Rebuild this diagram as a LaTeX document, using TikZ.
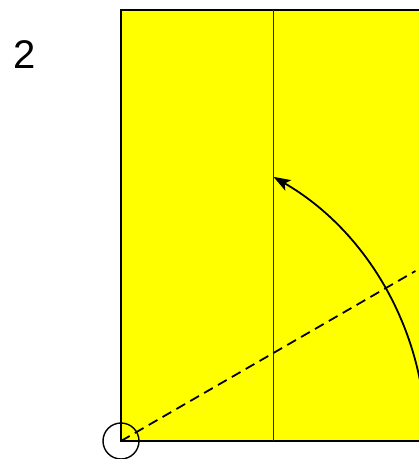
\documentclass[tikz,border=0pt]{standalone}
\usepackage{fontspec}
\setmainfont{Liberation Sans}
\usetikzlibrary{arrows.meta}
\definecolor{paperyellow}{RGB}{255,255,0}
\begin{document}
\begin{tikzpicture}[x=1pt,y=-1pt,
  paper/.style={fill=paperyellow,draw=black,line width=2.3pt},
  crease/.style={draw=black!85,line width=1pt},
  foldline/.style={draw=black,line width=1.8pt,dash pattern=on 10pt off 6pt},
  movearrow/.style={draw=black,line width=1.8pt,-{Stealth[length=17pt,width=12pt,inset=4pt]}},
  marker/.style={draw=black,line width=1.4pt}]
\useasboundingbox (0,0) rectangle (419,459);
\clip (0,0) rectangle (419,459);
\coordinate (corner) at (121,441);
\path[paper] (121,10) rectangle (440,441);
\draw[crease] (273,10) -- (273,441);
\draw[foldline] (corner) -- ++(-30:340);
\draw[marker] (corner) circle (18);
\draw[movearrow] (corner) ++(305,0) arc[start angle=0,end angle=-60,radius=305];
\node[font=\fontsize{40}{48}\selectfont,inner sep=0pt] (num) at (25,55) {2};
\end{tikzpicture}
\end{document}
